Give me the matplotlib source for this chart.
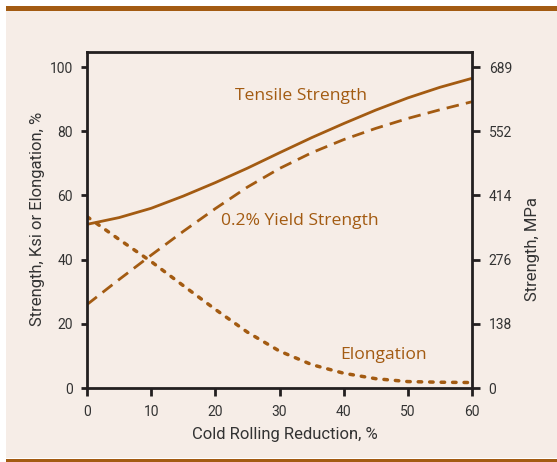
import matplotlib
matplotlib.use("Agg")
import matplotlib.pyplot as plt
from matplotlib.patches import Rectangle

# ---- data ----
reduction = [0, 5, 10, 15, 20, 25, 30, 35, 40, 45, 50, 55, 60]
tensile = [51, 53.1, 56.0, 59.8, 64.0, 68.5, 73.3, 78.0, 82.4, 86.6, 90.4, 93.7, 96.5]
yield_str = [26, 33.8, 41.4, 48.8, 55.9, 62.6, 68.4, 73.3, 77.4, 80.9, 84.0, 86.7, 89.2]
elongation = [53.4, 46.3, 39.4, 31.9, 24.5, 17.4, 11.5, 7.3, 4.6, 2.9, 2.0, 1.8, 1.7]
left_ticks = [0, 20, 40, 60, 80, 100]
x_ticks = [0, 10, 20, 30, 40, 50, 60]
mpa_labels = [0, 138, 276, 414, 552, 689]

BROWN = '#a35b12'
BG = '#f6ede7'
DARK = '#231f20'
TXT = '#333333'
COND = ['Liberation Sans Narrow', 'Roboto', 'DejaVu Sans']
HUM = ['Open Sans', 'DejaVu Sans']

W, H = 557, 462
fig = plt.figure(figsize=(W / 100, H / 100), dpi=100, facecolor='white')

# background panel and brown rules
fig.patches.append(Rectangle((6 / W, 4 / H), 1 - 6 / W, 1 - 15 / H, transform=fig.transFigure,
                             facecolor=BG, edgecolor='none', zorder=-5))
fig.patches.append(Rectangle((6 / W, 1 - 11 / H), 1 - 6 / W, 5 / H, transform=fig.transFigure,
                             facecolor=BROWN, edgecolor='none', zorder=-4))
fig.patches.append(Rectangle((6 / W, 0), 1 - 6 / W, 3 / H, transform=fig.transFigure,
                             facecolor=BROWN, edgecolor='none', zorder=-4))

ax = fig.add_axes([87 / W, 74 / H, (472 - 87) / W, (388 - 52) / H])
ax.set_facecolor('none')
ax.set_xlim(0, 60)
ax.set_ylim(0, 104.7)

ax.plot(reduction, tensile, color=BROWN, lw=2.0, solid_capstyle='butt', solid_joinstyle='round')
ax.plot(reduction, yield_str, color=BROWN, lw=2.0, dashes=(4.5, 2.6))
ax.plot(reduction, elongation, color=BROWN, lw=2.5, dashes=(1.0, 2.3), dash_capstyle='round')

for s in ax.spines.values():
    s.set_color(DARK)
    s.set_linewidth(2.0)

ax.set_xticks(x_ticks)
ax.set_yticks(left_ticks)
ax.tick_params(axis='both', direction='out', color=DARK, width=2.0, labelcolor=TXT, labelsize=10)
ax.tick_params(axis='x', length=6, pad=6)
ax.tick_params(axis='y', length=4, pad=6)
for lab in ax.get_xticklabels() + ax.get_yticklabels():
    lab.set_family(COND)

ax2 = ax.twinx()
ax2.set_ylim(ax.get_ylim())
ax2.set_yticks([m / 6.895 for m in mpa_labels])
ax2.set_yticklabels([str(m) for m in mpa_labels])
ax2.tick_params(axis='y', direction='out', length=6, width=2.0, color=DARK, labelcolor=TXT,
                labelsize=10, pad=6)
for lab in ax2.get_yticklabels():
    lab.set_family(COND)
for s in ax2.spines.values():
    s.set_visible(False)

fig.text(285 / W, 1 - 435 / H, 'Cold Rolling Reduction, %', ha='center', va='center',
         fontsize=12, color=TXT, family=COND)
fig.text(38 / W, 1 - 219 / H, 'Strength, Ksi or Elongation, %', ha='center', va='center',
         rotation=90, fontsize=12, color=TXT, family=COND)
fig.text(533 / W, 1 - 249 / H, 'Strength, MPa', ha='center', va='center',
         rotation=90, fontsize=12, color=TXT, family=COND)

fig.text(301 / W, 1 - 96 / H, 'Tensile Strength', fontsize=12.6, color=BROWN,
         family=HUM, ha='center', va='center')
fig.text(300 / W, 1 - 221 / H, '0.2% Yield Strength', fontsize=12.6, color=BROWN,
         family=HUM, ha='center', va='center')
fig.text(384 / W, 1 - 355 / H, 'Elongation', fontsize=12.6, color=BROWN,
         family=HUM, ha='center', va='center')

fig.savefig('out.png', dpi=100, facecolor='white')
